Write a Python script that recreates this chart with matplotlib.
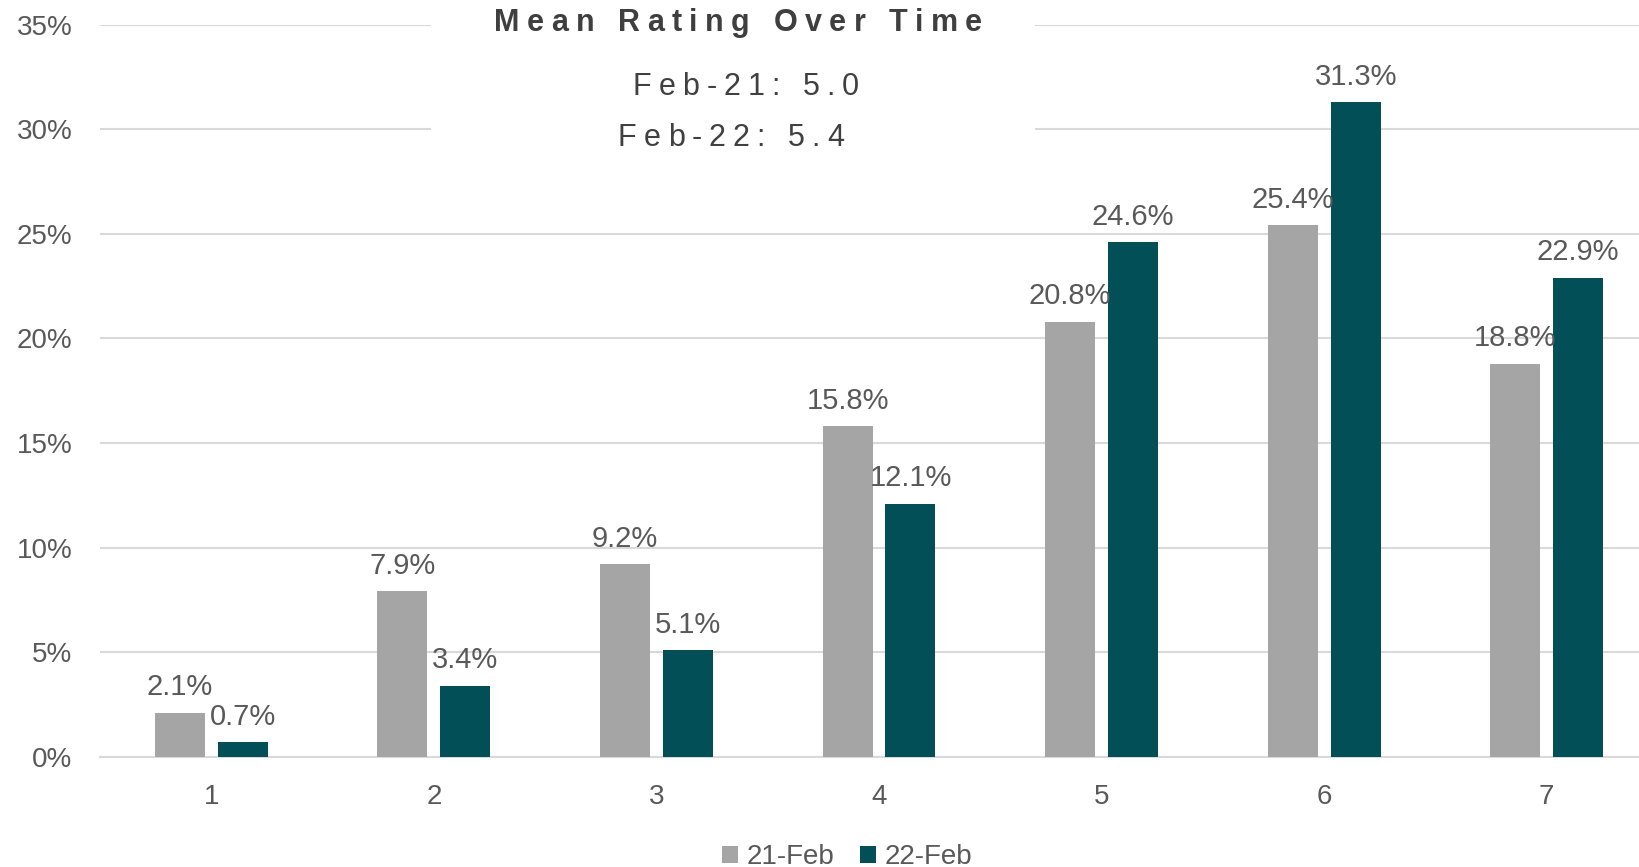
import matplotlib
matplotlib.use("Agg")
import matplotlib.pyplot as plt
from matplotlib.patches import Rectangle, Patch
from matplotlib.font_manager import FontProperties
import numpy as np

# ---- data ----
categories = ["1", "2", "3", "4", "5", "6", "7"]
series_names = ["21-Feb", "22-Feb"]
feb21 = [2.1, 7.9, 9.2, 15.8, 20.8, 25.4, 18.8]
feb22 = [0.7, 3.4, 5.1, 12.1, 24.6, 31.3, 22.9]
yticks = [0, 5, 10, 15, 20, 25, 30, 35]
title_text = "Mean Rating Over Time"
subtitle_lines = ["Feb-21: 5.0", "Feb-22: 5.4"]

# ---- style ----
GRAY = "#A5A5A5"
TEAL = "#024F58"
TXT = "#595959"
DARK = "#404040"
GRID = "#D9D9D9"
FONT = "Liberation Sans"
plt.rcParams["font.family"] = [FONT, "DejaVu Sans"]

W, H = 1640, 867
fig = plt.figure(figsize=(W / 100, H / 100), dpi=100)
fig.patch.set_facecolor("white")

ax_left, ax_right, ax_bottom, ax_top = 100, 1658, 756.7, 24.7
ax = fig.add_axes([ax_left / W, 1 - ax_bottom / H, (ax_right - ax_left) / W, (ax_bottom - ax_top) / H])

x = np.arange(1, len(categories) + 1)
bw = 0.2246
off = 0.1415
b1 = ax.bar(x - off, feb21, bw, color=GRAY, zorder=3, label=series_names[0])
b2 = ax.bar(x + off, feb22, bw, color=TEAL, zorder=3, label=series_names[1])

for bars, vals in ((b1, feb21), (b2, feb22)):
    for rect, v in zip(bars, vals):
        ax.annotate(f"{v:.1f}%", (rect.get_x() + rect.get_width() / 2, rect.get_height()),
                    xytext=(0, 12.6), textcoords="offset points", ha="center", va="baseline",
                    fontsize=21, color=TXT, zorder=5)

ax.set_xlim(0.5, len(categories) + 0.5)
ax.set_ylim(0, 35)
ax.set_yticks(yticks)
ax.set_yticklabels([f"{t}%" for t in yticks])
ax.set_xticks(x)
ax.set_xticklabels(categories)
ax.tick_params(axis="both", length=0, labelsize=20, labelcolor=TXT)
ax.tick_params(axis="y", pad=20)
ax.tick_params(axis="x", pad=20)
ax.yaxis.grid(True, color=GRID, linewidth=1.5, zorder=0)
ax.set_axisbelow(True)
for s in ["top", "right", "left"]:
    ax.spines[s].set_visible(False)
ax.spines["bottom"].set_color(GRID)
ax.spines["bottom"].set_linewidth(1.5)

# white panel behind title
ax.add_patch(Rectangle((431 / W, 1 - 165 / H), (1035 - 431) / W, 165 / H,
                       transform=fig.transFigure, facecolor="white", edgecolor="none",
                       zorder=2, clip_on=False))

# tracked text helper
fig.canvas.draw()
renderer = fig.canvas.get_renderer()


def tracked(s, cx, base_y, width, size, weight="normal", color=DARK):
    fp = FontProperties(family=FONT, size=size, weight=weight)
    widths = []
    for i in range(len(s) + 1):
        sub = s[:i]
        if sub:
            w, _, _ = renderer.get_text_width_height_descent(sub.replace(" ", "\u00a0"), fp, ismath=False)
        else:
            w = 0
        widths.append(w)
    nat = widths[-1]
    t = (width - nat) / (len(s) - 1)
    left = cx - width / 2
    for i, ch in enumerate(s):
        if ch == " ":
            continue
        px = left + widths[i] + i * t
        fig.text(px / W, 1 - base_y / H, ch, fontproperties=fp, color=color,
                 ha="left", va="baseline", zorder=10)


tracked(title_text, 738, 31, 488, 22, weight="bold", color="#3F3F3F")
tracked(subtitle_lines[0], 746, 95, 226, 22)
tracked(subtitle_lines[1], 731, 146, 226, 22)

handles = [Patch(facecolor=GRAY, label=series_names[0]), Patch(facecolor=TEAL, label=series_names[1])]
leg = fig.legend(handles=handles, loc="center", bbox_to_anchor=(847 / W, 1 - 857 / H), ncol=2,
                 frameon=False, fontsize=20, handlelength=0.58, handleheight=0.58,
                 handletextpad=0.32, columnspacing=0.9, borderpad=0)
for t in leg.get_texts():
    t.set_color(TXT)

fig.savefig("out.png", dpi=100, facecolor="white")
